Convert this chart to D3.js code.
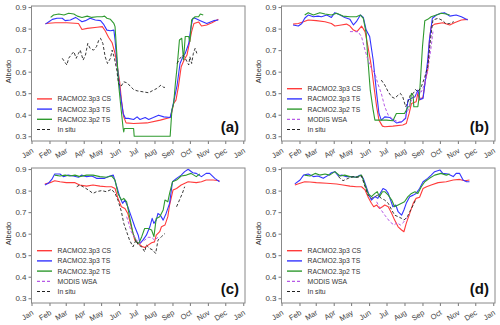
<!DOCTYPE html>
<html><head><meta charset="utf-8">
<script src="https://cdn.jsdelivr.net/npm/d3@7"></script>
<style>body{margin:0;background:#fff}svg{display:block}text{font-family:Arial,"Liberation Sans",sans-serif}</style>
</head><body><svg id="chart" width="500" height="325"></svg>
<script>
// ---------- axis data ----------
const monthLabels = ['Jan','Feb','Mar','Apr','May','Jun','Jul','Aug','Sep','Oct','Nov','Dec','Jan'];
const monthDays = [0,31,59,90,120,151,181,212,243,273,304,334,365];
const yTicks = [0.3,0.4,0.5,0.6,0.7,0.8,0.9];
const seriesNames = ['RACMO2.3p3 CS','RACMO2.3p3 TS','RACMO2.3p2 TS','MODIS WSA','In situ'];
const panelLabels = ['(a)','(b)','(c)','(d)'];

// ---------- series data: [day of year, albedo] ----------
const a_cs = [[24,0.824],[41,0.827],[61,0.827],[81,0.824],[87,0.796],[96,0.801],[113,0.806],[122,0.809],[127,0.79],[133,0.759],[139,0.734],[144,0.685],[148,0.623],[152,0.553],[155,0.468],[159,0.39],[163,0.362],[176,0.359],[199,0.362],[222,0.375],[239,0.387],[242,0.414],[245,0.452],[249,0.468],[253,0.527],[258,0.623],[263,0.654],[268,0.677],[272,0.731],[276,0.786],[280,0.824],[288,0.831],[293,0.812],[302,0.817],[311,0.827],[322,0.843]];
const a_ts3 = [[24,0.821],[30,0.832],[36,0.843],[44,0.848],[53,0.848],[58,0.837],[67,0.84],[76,0.852],[81,0.843],[87,0.832],[93,0.837],[101,0.848],[110,0.84],[119,0.837],[124,0.821],[130,0.793],[136,0.79],[142,0.793],[144,0.747],[148,0.623],[153,0.499],[158,0.406],[162,0.383],[167,0.383],[176,0.378],[182,0.39],[187,0.378],[196,0.387],[202,0.378],[210,0.387],[219,0.398],[228,0.39],[239,0.387],[242,0.421],[245,0.46],[251,0.538],[256,0.638],[261,0.669],[265,0.685],[271,0.731],[275,0.809],[278,0.848],[282,0.848],[291,0.837],[302,0.824],[314,0.837],[322,0.84]];
const a_ts2 = [[33,0.852],[38,0.863],[47,0.868],[56,0.863],[64,0.871],[73,0.868],[79,0.858],[87,0.852],[96,0.858],[104,0.852],[113,0.855],[122,0.855],[126,0.858],[130,0.848],[136,0.843],[142,0.824],[144,0.809],[147,0.685],[150,0.545],[154,0.437],[158,0.336],[159,0.32],[160,0.336],[176,0.336],[177,0.3],[239,0.3],[242,0.421],[245,0.452],[248,0.545],[251,0.623],[255,0.747],[259,0.755],[262,0.654],[265,0.763],[271,0.763],[273,0.739],[276,0.84],[282,0.855],[288,0.855],[291,0.868],[296,0.863]];
const a_insitu = [[53,0.662],[57,0.646],[61,0.631],[64,0.662],[68,0.677],[73,0.693],[77,0.662],[81,0.685],[84,0.7],[89,0.654],[93,0.677],[97,0.731],[101,0.708],[107,0.7],[112,0.716],[116,0.747],[119,0.755],[123,0.731],[127,0.669],[131,0.638],[136,0.662],[139,0.7],[143,0.662],[147,0.607],[150,0.545],[154,0.53],[159,0.553],[165,0.548],[170,0.533],[176,0.517],[182,0.511],[193,0.506],[202,0.502],[208,0.511],[216,0.522],[223,0.537],[228,0.527],[230,0.527],[240,null],[251,0.638],[256,0.662],[261,0.677],[265,0.662],[271,0.631],[273,0.669],[276,0.638],[279,0.685],[282,0.708],[285,0.685]];

const b_cs = [[20,0.821],[29,0.824],[38,0.832],[46,0.84],[60,0.837],[75,0.832],[86,0.824],[92,0.812],[103,0.817],[112,0.821],[118,0.812],[124,0.793],[130,0.786],[138,0.812],[144,0.786],[149,0.716],[155,0.623],[159,0.538],[164,0.437],[168,0.375],[174,0.347],[178,0.344],[192,0.347],[209,0.352],[215,0.359],[220,0.406],[224,0.452],[232,0.46],[235,0.499],[238,0.468],[244,0.483],[248,0.561],[252,0.607],[255,0.747],[258,0.809],[264,0.821],[278,0.827],[290,0.817],[298,0.827],[310,0.84],[321,0.843]];
const b_ts3 = [[20,0.817],[29,0.812],[35,0.824],[40,0.848],[46,0.863],[55,0.855],[63,0.858],[69,0.855],[78,0.863],[86,0.852],[92,0.874],[101,0.863],[109,0.852],[118,0.843],[124,0.817],[129,0.832],[136,0.863],[141,0.852],[146,0.793],[152,0.763],[158,0.654],[164,0.499],[168,0.406],[172,0.375],[178,0.39],[187,0.387],[192,0.375],[198,0.362],[207,0.367],[214,0.383],[218,0.468],[224,0.476],[230,0.483],[235,0.514],[239,0.471],[244,0.476],[248,0.561],[252,0.654],[255,0.747],[260,0.848],[267,0.863],[275,0.871],[281,0.874],[290,0.858],[301,0.863],[310,0.855],[321,0.84]];
const b_ts2 = [[40,0.863],[46,0.874],[55,0.863],[66,0.874],[75,0.868],[86,0.863],[95,0.871],[106,0.858],[118,0.855],[129,0.855],[136,0.863],[141,0.848],[146,0.778],[149,0.654],[153,0.514],[158,0.421],[161,0.375],[181,0.375],[192,0.372],[198,0.406],[212,0.406],[215,0.421],[218,0.437],[221,0.437],[224,0.499],[227,0.49],[228,0.437],[235,0.437],[238,0.499],[243,0.716],[247,0.837],[252,0.843],[258,0.855],[267,0.863],[275,0.871],[284,0.868],[290,0.863]];
const b_modis = [[118,0.786],[126,0.786],[132,0.786],[138,0.762],[144,0.7],[149,0.654],[155,0.615],[161,0.592],[166,0.545],[172,0.499],[178,0.437],[184,0.398],[190,0.383],[195,0.375],[201,0.367],[207,0.367],[212,0.383],[218,0.421],[224,0.468],[230,0.483],[235,0.506],[241,0.506],[247,0.545],[252,0.607],[258,0.716],[261,0.786]];
const b_insitu = [[172,0.561],[178,0.538],[184,0.506],[190,0.483],[195,0.476],[201,0.491],[205,0.499],[209,0.483],[214,0.437],[218,0.46],[222,0.491],[227,0.499],[231,0.517],[235,0.506],[241,0.53],[247,0.576],[252,0.623],[258,0.778],[261,0.84],[270,0.848],[278,0.837],[284,0.821],[290,0.824],[297,0.832]];

const c_cs = [[23,0.831],[32,0.837],[40,0.846],[49,0.841],[60,0.837],[75,0.837],[83,0.826],[95,0.821],[106,0.826],[118,0.821],[129,0.818],[138,0.818],[144,0.81],[149,0.764],[155,0.725],[161,0.717],[166,0.694],[172,0.632],[178,0.57],[184,0.555],[190,0.542],[195,0.536],[201,0.547],[207,0.558],[212,0.562],[215,0.593],[221,0.609],[224,0.632],[230,0.64],[235,0.679],[238,0.733],[244,0.803],[250,0.81],[258,0.826],[270,0.841],[284,0.837],[293,0.841],[301,0.849],[313,0.849],[324,0.846]];
const c_ts3 = [[23,0.826],[29,0.834],[35,0.852],[40,0.877],[49,0.877],[55,0.865],[63,0.872],[72,0.868],[81,0.862],[86,0.872],[95,0.865],[104,0.868],[112,0.857],[118,0.857],[126,0.857],[135,0.868],[141,0.872],[147,0.818],[152,0.772],[157,0.741],[161,0.756],[166,0.725],[172,0.679],[178,0.632],[184,0.593],[187,0.555],[192,0.57],[198,0.593],[204,0.632],[208,0.671],[211,0.648],[215,0.663],[218,0.694],[222,0.686],[227,0.663],[232,0.694],[238,0.741],[243,0.841],[250,0.857],[258,0.872],[264,0.888],[270,0.899],[278,0.883],[284,0.88],[293,0.865],[301,0.88],[307,0.88],[316,0.857],[324,0.841]];
const c_ts2 = [[40,0.872],[49,0.868],[58,0.872],[66,0.868],[75,0.872],[83,0.865],[95,0.872],[106,0.872],[118,0.865],[129,0.862],[138,0.868],[144,0.849],[149,0.787],[155,0.756],[159,0.764],[164,0.748],[169,0.679],[175,0.601],[181,0.562],[185,0.555],[190,0.586],[195,0.624],[201,0.624],[207,0.617],[211,0.586],[215,0.671],[221,0.679],[227,0.71],[230,0.756],[235,0.748],[238,0.787],[243,0.841],[250,0.849],[258,0.868],[267,0.872],[275,0.88],[284,0.865],[290,0.877]];
const c_modis = [[164,0.679],[172,0.609],[181,0.57],[187,0.555],[195,0.57],[201,0.583],[207,0.583],[212,0.57],[218,0.583]];
const c_insitu = [[78,0.818],[83,0.826],[89,0.818],[98,0.803],[106,0.787],[112,0.795],[121,0.8],[129,0.795],[138,0.806],[144,0.787],[149,0.756],[155,0.702],[159,0.648],[164,0.609],[169,0.57],[175,0.539],[180,0.57],[184,0.547],[190,0.539],[195,0.516],[198,0.547],[204,0.531],[209,0.524],[214,0.508],[218,0.57],[224,0.586],[230,0.601],[240,null],[250,0.725],[255,0.756],[260,0.787],[264,0.818]];

const d_cs = [[23,0.826],[32,0.834],[40,0.841],[49,0.84],[60,0.837],[78,0.834],[95,0.831],[106,0.826],[118,0.821],[129,0.818],[138,0.818],[144,0.803],[149,0.772],[155,0.741],[159,0.725],[164,0.733],[169,0.717],[174,0.725],[178,0.733],[184,0.725],[190,0.694],[195,0.663],[201,0.632],[207,0.617],[211,0.609],[215,0.648],[221,0.694],[227,0.741],[232,0.764],[238,0.769],[244,0.81],[250,0.818],[258,0.826],[270,0.837],[284,0.841],[296,0.849],[307,0.852],[316,0.846],[324,0.849]];
const d_ts3 = [[23,0.831],[32,0.849],[38,0.872],[46,0.877],[55,0.865],[63,0.868],[72,0.857],[81,0.872],[86,0.883],[92,0.888],[98,0.868],[104,0.872],[112,0.865],[121,0.865],[129,0.862],[136,0.872],[141,0.857],[145,0.826],[151,0.779],[155,0.756],[161,0.772],[166,0.764],[170,0.787],[175,0.81],[180,0.803],[184,0.787],[188,0.756],[192,0.725],[197,0.733],[201,0.702],[207,0.686],[211,0.71],[215,0.741],[221,0.772],[227,0.779],[232,0.787],[238,0.81],[244,0.841],[252,0.857],[258,0.872],[264,0.888],[273,0.896],[278,0.88],[287,0.877],[296,0.865],[301,0.88],[307,0.88],[313,0.849],[319,0.841],[324,0.841]];
const d_ts2 = [[40,0.872],[49,0.868],[58,0.88],[66,0.872],[75,0.877],[83,0.872],[92,0.888],[101,0.868],[109,0.872],[118,0.865],[129,0.862],[138,0.872],[144,0.826],[149,0.787],[155,0.772],[161,0.787],[165,0.795],[169,0.772],[174,0.795],[178,0.795],[184,0.779],[190,0.756],[195,0.725],[201,0.733],[207,0.741],[212,0.748],[218,0.772],[224,0.787],[230,0.795],[235,0.787],[241,0.818],[247,0.841],[255,0.857],[264,0.872],[275,0.88],[284,0.872],[290,0.877]];
const d_modis = [[164,0.748],[170,0.717],[178,0.686],[187,0.655],[194,0.64],[199,0.651],[205,0.64],[211,0.655],[215,0.671],[221,0.686]];
const d_insitu = [[98,0.865],[106,0.846],[115,0.857],[124,0.865],[132,0.862],[138,0.868],[144,0.818],[149,0.779],[155,0.764],[161,0.772],[166,0.779],[172,0.764],[178,0.756],[184,0.741],[190,0.71],[195,0.686],[201,0.679],[207,0.671],[211,0.663],[217,0.679],[221,0.702],[227,0.733],[231,0.756]];

const panelSeries = [
  [a_cs, a_ts3, a_ts2, null, a_insitu],
  [b_cs, b_ts3, b_ts2, b_modis, b_insitu],
  [c_cs, c_ts3, c_ts2, c_modis, c_insitu],
  [d_cs, d_ts3, d_ts2, d_modis, d_insitu]
];

// ---------- styling ----------
const colors = ['#ff3b3b','#3434ff','#2f9a2f','#b65ae6','#222222'];
const dashes = [null,null,null,'3,2','3,2'];
const widths = [1.1,1.1,1.1,1,0.9];
const panelPos = [[31.5,6],[281.5,6],[31.5,168],[281.5,168]];
const W = 213.5, H = 135;

const svg = d3.select('#chart');
const x = d3.scaleLinear().domain([0,368]).range([0,W]);
const y = d3.scaleLinear().domain([0.278,0.905]).range([H,0]);
const line = d3.line().defined(d => d[1] != null).x(d => x(d[0])).y(d => y(d[1]));

panelPos.forEach((pos, pi) => {
  const g = svg.append('g').attr('transform', `translate(${pos[0]},${pos[1]})`);
  const cid = 'clip' + pi;
  g.append('clipPath').attr('id', cid).append('rect').attr('width', W).attr('height', H);

  const plot = g.append('g').attr('clip-path', `url(#${cid})`);
  panelSeries[pi].forEach((s, si) => {
    if (!s) return;
    plot.append('path').datum(s).attr('d', line)
      .attr('fill','none').attr('stroke', colors[si]).attr('stroke-width', widths[si])
      .attr('stroke-dasharray', dashes[si]).attr('stroke-linejoin','round');
  });

  // axes
  const ya = g.append('g').call(d3.axisLeft(y).tickValues(yTicks).tickSize(3).tickPadding(2).tickFormat(d3.format('.1f')));
  ya.select('.domain').remove();
  ya.selectAll('line').attr('stroke','#777');
  ya.selectAll('text').attr('fill','#444').style('font-size','8px');

  const xa = g.append('g').attr('transform', `translate(0,${H})`)
    .call(d3.axisBottom(x).tickValues(monthDays).tickSize(3).tickFormat((d,i) => monthLabels[i]));
  xa.select('.domain').remove();
  xa.selectAll('line').attr('stroke','#777');
  xa.selectAll('text').attr('fill','#444').style('font-size','7.5px')
    .attr('text-anchor','end').attr('dy',null).attr('y',null)
    .attr('transform','translate(2,11) rotate(-32)');

  // frame
  g.append('rect').attr('width', W).attr('height', H).attr('fill','none').attr('stroke','#888').attr('stroke-width',1);

  // y label
  g.append('text').attr('transform', `translate(-21,${H/2 - 2}) rotate(-90)`)
    .attr('text-anchor','middle').attr('fill','#333').style('font-size','7.5px').text('Albedo');

  // legend
  const entries = panelSeries[pi].map((s,i) => s ? i : -1).filter(i => i >= 0);
  const lg = g.append('g').attr('transform', `translate(5.5,${123.5 - (entries.length-1)*10.2})`);
  entries.forEach((si, k) => {
    const row = lg.append('g').attr('transform', `translate(0,${k*10.2})`);
    row.append('line').attr('x1',0).attr('x2',15).attr('y1',0).attr('y2',0)
      .attr('stroke', colors[si]).attr('stroke-width', widths[si] + 0.3).attr('stroke-dasharray', dashes[si]);
    row.append('text').attr('x',20.5).attr('y',2.4).attr('fill','#333').style('font-size','6.8px').text(seriesNames[si]);
  });

  // panel label
  g.append('text').attr('x', W - 6).attr('y', H - 9).attr('text-anchor','end')
    .style('font-size','15px').style('font-weight','bold').attr('fill','#111').text(panelLabels[pi]);
});
</script>
</body></html>
